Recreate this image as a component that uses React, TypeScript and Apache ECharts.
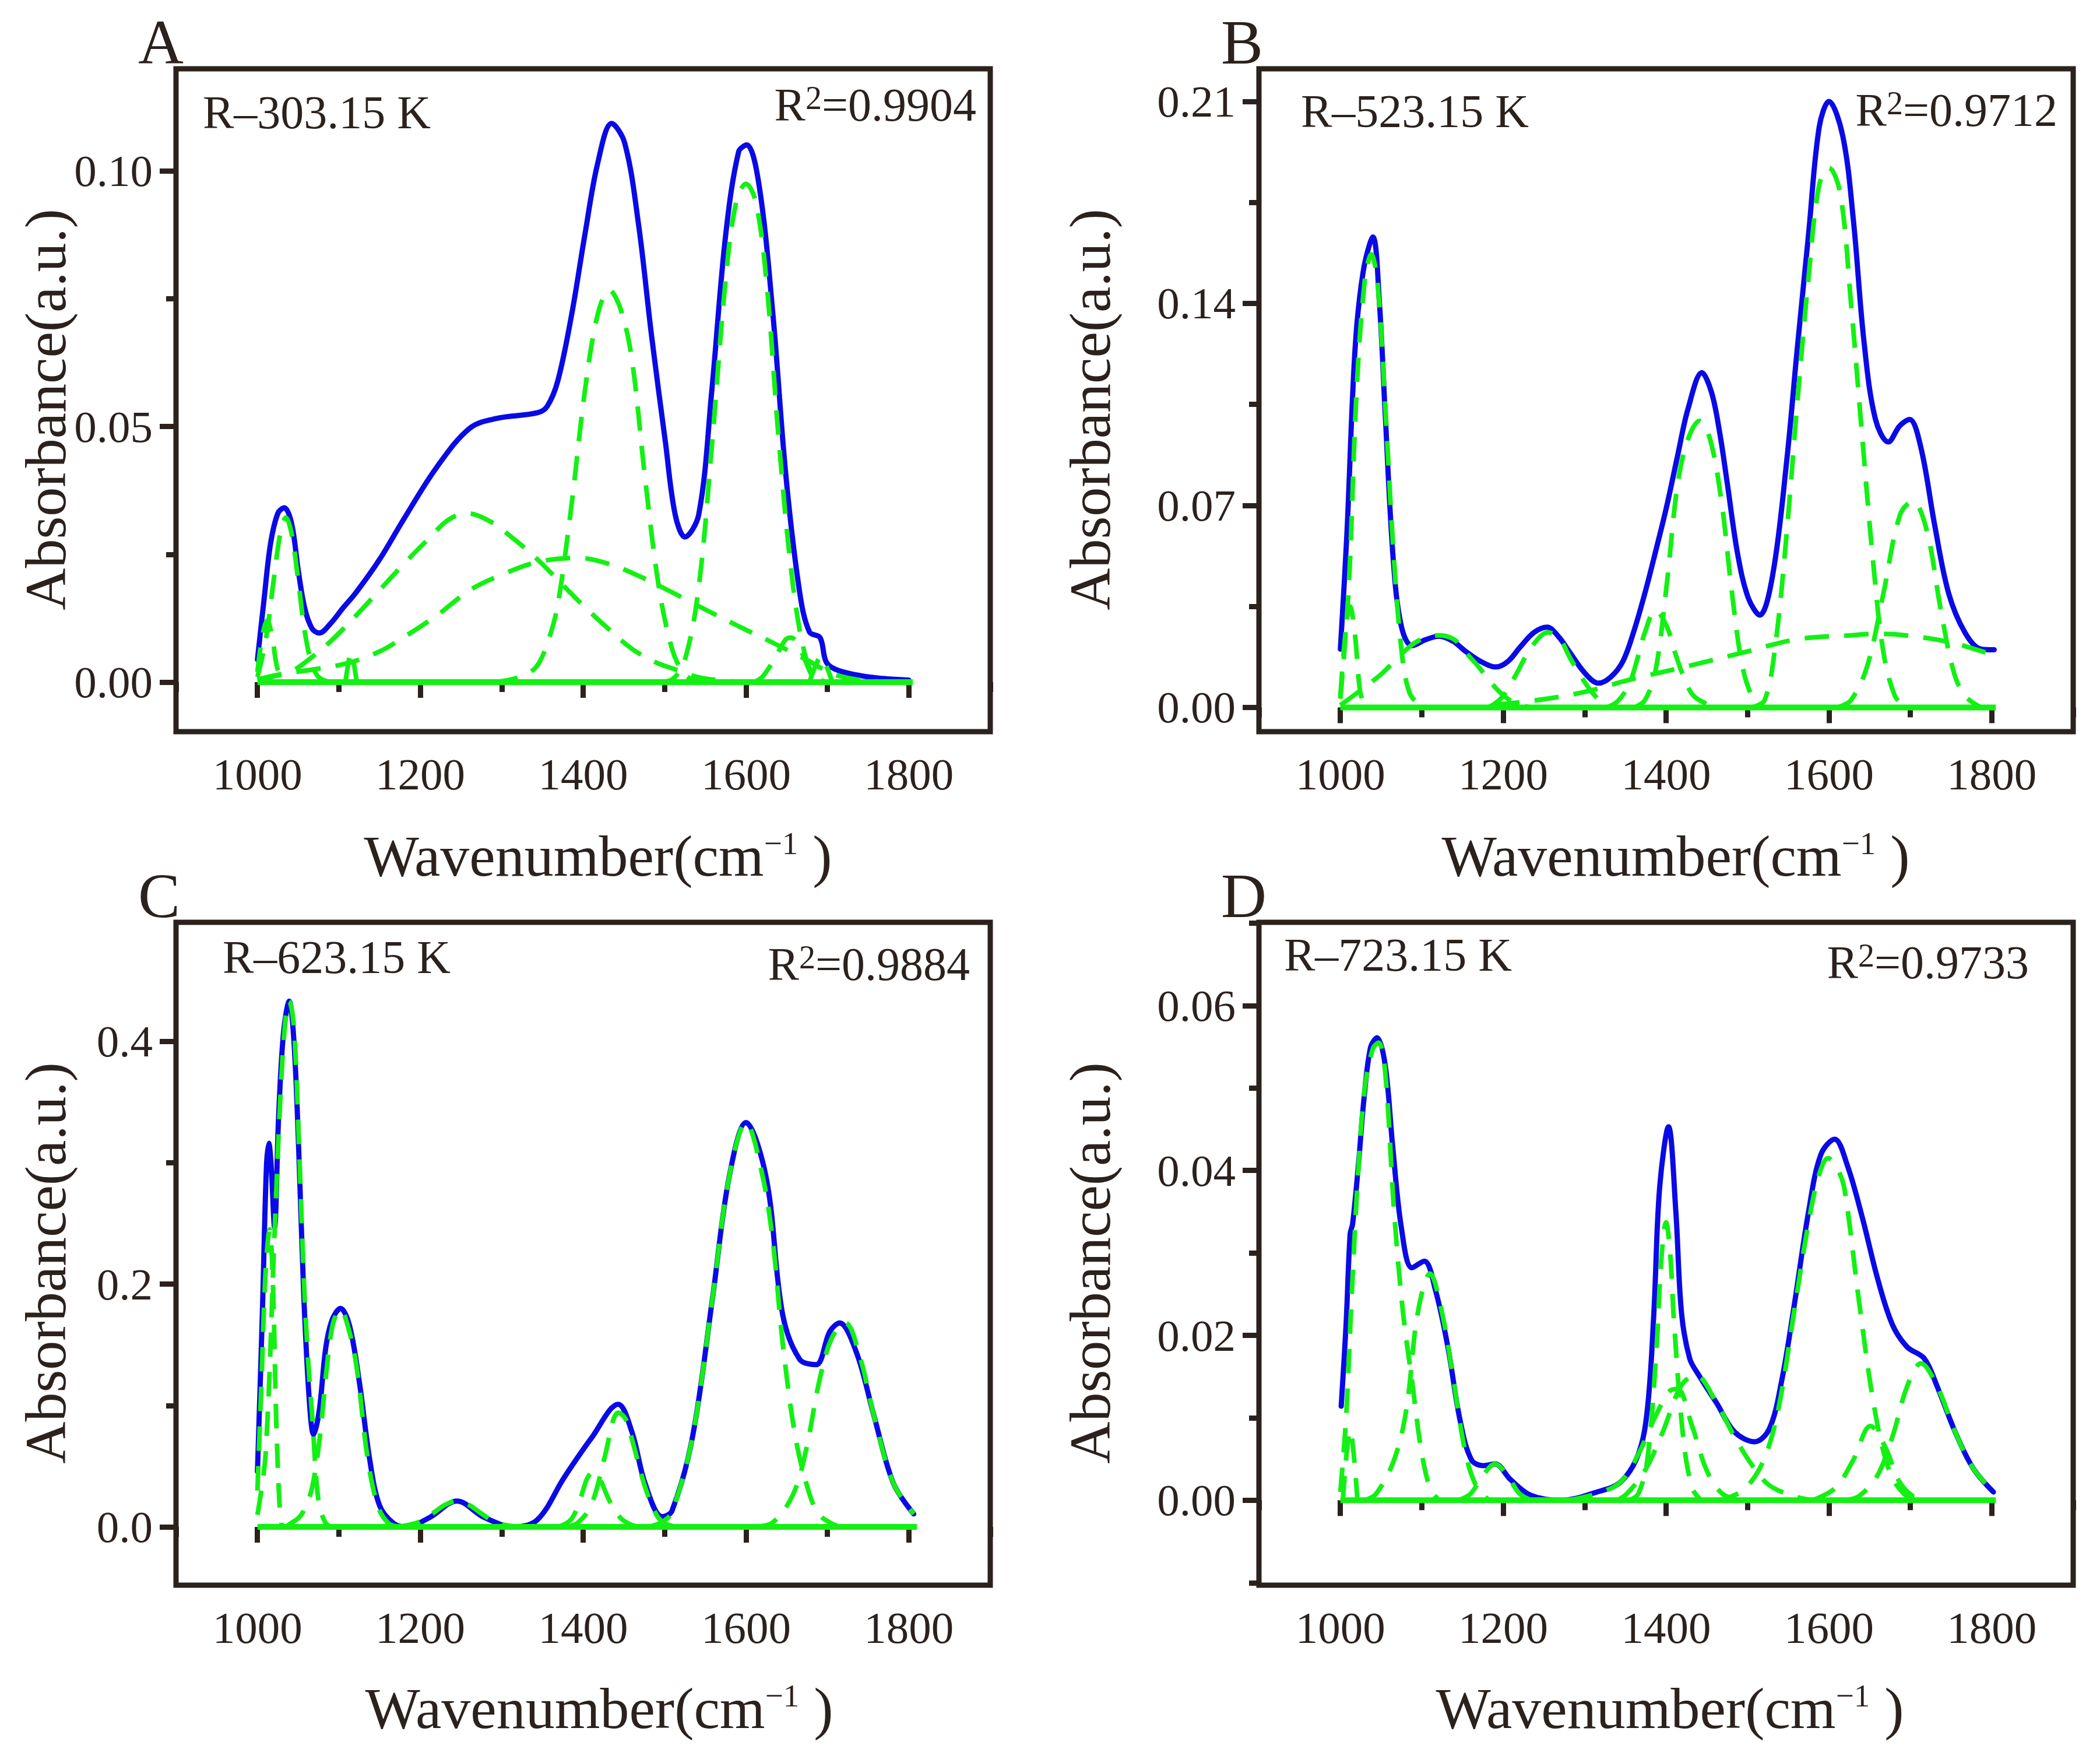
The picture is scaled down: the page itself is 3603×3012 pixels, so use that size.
import { useEffect, useRef } from "react";
import * as echarts from "echarts";

// ---- tick values (shared x, per-panel y) ----
const xMajorTicks = [1000, 1200, 1400, 1600, 1800];
const xMinorTicks = [900, 1100, 1300, 1500, 1700, 1900];

const yMajorA = [0, 0.05, 0.1];
const yMinorA = [0.025, 0.075];
const yMajorB = [0, 0.07, 0.14, 0.21];
const yMinorB = [0.035, 0.105, 0.175];
const yMajorC = [0, 0.2, 0.4];
const yMinorC = [0.1, 0.3];
const yMajorD = [0, 0.02, 0.04, 0.06];
const yMinorD = [-0.01, 0.01, 0.03, 0.05, 0.07];

const panelNames = ["A", "B", "C", "D"];
const sampleLabels = ["R–303.15 K", "R–523.15 K", "R–623.15 K", "R–723.15 K"];
const r2Values = ["0.9904", "0.9712", "0.9884", "0.9733"];

// ---- panel A, 303.15 K ----
const fitA = [
  [1000, 0.0044], [1008, 0.016], [1016, 0.027], [1025, 0.033], [1033, 0.0341], [1042, 0.031],
  [1050, 0.022], [1058, 0.0145], [1067, 0.0105], [1076, 0.0096], [1090, 0.0115], [1105, 0.0145],
  [1121, 0.0175], [1150, 0.024], [1179, 0.0317], [1220, 0.042], [1261, 0.0497], [1294, 0.0516],
  [1344, 0.0527], [1356, 0.054], [1369, 0.059], [1386, 0.072], [1402, 0.0874], [1418, 0.1016],
  [1435, 0.1093], [1451, 0.1055], [1468, 0.0896], [1484, 0.0678], [1501, 0.047], [1513, 0.0328],
  [1525, 0.0284], [1542, 0.0328], [1558, 0.057], [1575, 0.0874], [1591, 0.1038], [1601, 0.1051],
  [1616, 0.0973], [1633, 0.0721], [1649, 0.0404], [1666, 0.0175], [1678, 0.0098], [1691, 0.0087],
  [1699, 0.0038], [1715, 0.0022], [1756, 0.0009], [1800, 0.0004],
];
const peaksA = [
  [[1000, 0.002], [1006, 0.009], [1012, 0.012], [1018, 0.009], [1024, 0.003], [1032, 0]],
  [[1000, 0.001], [1010, 0.008], [1020, 0.02], [1028, 0.029], [1035, 0.0322], [1042, 0.029],
    [1050, 0.02], [1058, 0.01], [1066, 0.004], [1075, 0.001], [1090, 0]],
  [[1108, 0], [1112, 0.004], [1115, 0.006], [1118, 0.004], [1122, 0]],
  [[1000, 0.0005], [1040, 0.002], [1063, 0.0044], [1090, 0.008], [1121, 0.013], [1150, 0.018],
    [1179, 0.023], [1210, 0.028], [1235, 0.0318], [1258, 0.033], [1285, 0.0315], [1315, 0.028],
    [1344, 0.024], [1375, 0.019], [1400, 0.015], [1427, 0.011], [1460, 0.0065], [1490, 0.0038],
    [1509, 0.0027], [1540, 0.001], [1570, 0.0003], [1600, 0]],
  [[1000, 0.0005], [1030, 0.0016], [1070, 0.0025], [1113, 0.0038], [1150, 0.006], [1179, 0.0087],
    [1220, 0.013], [1261, 0.018], [1300, 0.021], [1344, 0.0235], [1394, 0.0243], [1430, 0.0232],
    [1468, 0.0208], [1510, 0.0175], [1550, 0.0142], [1590, 0.011], [1633, 0.0077], [1674, 0.0044],
    [1707, 0.0016], [1740, 0.0004], [1780, 0]],
  [[1290, 0], [1311, 0.0005], [1330, 0.0015], [1344, 0.0033], [1357, 0.008], [1369, 0.0153],
    [1386, 0.035], [1402, 0.0568], [1418, 0.072], [1432, 0.0767], [1446, 0.073], [1460, 0.063],
    [1476, 0.04], [1493, 0.0186], [1509, 0.0066], [1522, 0.002], [1534, 0.0005], [1550, 0]],
  [[1490, 0], [1509, 0.0005], [1525, 0.0044], [1542, 0.0186], [1558, 0.046], [1575, 0.0787],
    [1588, 0.094], [1600, 0.0975], [1612, 0.094], [1625, 0.0787], [1641, 0.046], [1658, 0.0186],
    [1674, 0.0044], [1687, 0.0008], [1700, 0]],
  [[1610, 0], [1620, 0.001], [1635, 0.0045], [1648, 0.0082], [1655, 0.0087], [1662, 0.008],
    [1672, 0.0045], [1682, 0.001], [1690, 0]],
  [[1678, 0], [1685, 0.003], [1692, 0.005], [1699, 0.003], [1706, 0]],
];
const baseA = [[1000, 0], [1805, 0]];

// ---- panel B, 523.15 K ----
const fitB = [
  [1000, 0.0202], [1008, 0.06], [1018, 0.124], [1028, 0.151], [1040, 0.163], [1048, 0.14],
  [1055, 0.102], [1065, 0.051], [1075, 0.028], [1088, 0.0214], [1105, 0.0235], [1121, 0.0247],
  [1138, 0.023], [1154, 0.0194], [1172, 0.016], [1191, 0.014], [1206, 0.016], [1221, 0.021],
  [1238, 0.026], [1254, 0.0278], [1268, 0.0245], [1281, 0.0194], [1300, 0.012], [1317, 0.0084],
  [1332, 0.0105], [1347, 0.016], [1360, 0.026], [1374, 0.0396], [1388, 0.055], [1401, 0.07],
  [1414, 0.087], [1427, 0.1035], [1444, 0.116], [1456, 0.109], [1466, 0.095], [1475, 0.078],
  [1488, 0.053], [1501, 0.0379], [1515, 0.032], [1531, 0.046], [1548, 0.085], [1561, 0.124],
  [1575, 0.164], [1588, 0.201], [1600, 0.21], [1617, 0.198], [1630, 0.169], [1643, 0.127],
  [1657, 0.1], [1673, 0.092], [1687, 0.0976], [1699, 0.0998], [1713, 0.09], [1730, 0.063],
  [1747, 0.0396], [1767, 0.026], [1787, 0.0202], [1803, 0.02],
];
const peaksB = [
  [[1000, 0.004], [1006, 0.025], [1012, 0.035], [1018, 0.025], [1024, 0.006], [1030, 0]],
  [[1000, 0.003], [1010, 0.04], [1020, 0.11], [1030, 0.148], [1038, 0.157], [1046, 0.146],
    [1055, 0.105], [1065, 0.055], [1075, 0.02], [1085, 0.005], [1100, 0]],
  [[1000, 0.0008], [1048, 0.011], [1075, 0.0185], [1095, 0.023], [1121, 0.025], [1140, 0.0235],
    [1154, 0.019], [1170, 0.014], [1181, 0.01], [1195, 0.0055], [1208, 0.0025], [1221, 0.0008], [1235, 0]],
  [[1180, 0], [1188, 0.001], [1200, 0.004], [1215, 0.011], [1235, 0.021], [1255, 0.026],
    [1270, 0.0235], [1281, 0.0177], [1295, 0.011], [1307, 0.006], [1318, 0.0025], [1327, 0.0008], [1340, 0]],
  [[1190, 0.001], [1228, 0.002], [1294, 0.005], [1361, 0.01], [1427, 0.0143], [1494, 0.019],
    [1561, 0.0236], [1627, 0.025], [1660, 0.0255], [1694, 0.025], [1747, 0.0227], [1793, 0.019], [1805, 0.018]],
  [[1327, 0], [1340, 0.002], [1354, 0.0076], [1365, 0.017], [1374, 0.026], [1387, 0.0337],
    [1401, 0.028], [1411, 0.019], [1421, 0.011], [1431, 0.005], [1441, 0.0025], [1461, 0]],
  [[1361, 0], [1374, 0.0025], [1387, 0.0126], [1401, 0.043], [1414, 0.077], [1427, 0.093],
    [1441, 0.0993], [1454, 0.093], [1468, 0.0715], [1481, 0.0396], [1494, 0.014], [1508, 0.0025], [1521, 0]],
  [[1505, 0], [1521, 0.0025], [1534, 0.021], [1548, 0.06], [1561, 0.105], [1575, 0.149],
    [1588, 0.181], [1600, 0.187], [1614, 0.178], [1627, 0.1405], [1641, 0.0934], [1654, 0.0513],
    [1667, 0.019], [1681, 0.004], [1694, 0]],
  [[1610, 0], [1627, 0.0025], [1647, 0.0143], [1667, 0.0396], [1687, 0.0665], [1703, 0.0715],
    [1720, 0.0615], [1737, 0.0345], [1753, 0.0126], [1767, 0.004], [1787, 0]],
];
const baseB = [[1000, 0], [1805, 0]];

// ---- panel C, 623.15 K ----
const fitC = [
  [1000, 0.0455], [1006, 0.175], [1011, 0.296], [1014, 0.316], [1017, 0.296], [1021, 0.247],
  [1026, 0.338], [1032, 0.407], [1039, 0.433], [1045, 0.398], [1051, 0.305], [1057, 0.189],
  [1064, 0.101], [1069, 0.076], [1076, 0.0965], [1084, 0.148], [1092, 0.171], [1102, 0.18],
  [1113, 0.166], [1125, 0.12], [1138, 0.055], [1150, 0.0176], [1167, 0.003], [1183, 0],
  [1212, 0.008], [1245, 0.0213], [1278, 0.008], [1315, 0], [1344, 0.006], [1377, 0.041],
  [1410, 0.073], [1443, 0.101], [1460, 0.078], [1476, 0.036], [1497, 0.0084], [1509, 0.013],
  [1534, 0.073], [1559, 0.189], [1579, 0.287], [1600, 0.333], [1625, 0.287], [1645, 0.175],
  [1666, 0.138], [1686, 0.1336], [1703, 0.161], [1715, 0.168], [1736, 0.143], [1757, 0.092],
  [1781, 0.036], [1806, 0.0107],
];
const peaksC = [
  [[1000, 0.03], [1005, 0.12], [1010, 0.21], [1015, 0.245], [1019, 0.2], [1023, 0.09], [1027, 0.02], [1030, 0]],
  [[1000, 0.01], [1010, 0.06], [1021, 0.241], [1028, 0.351], [1034, 0.415], [1039, 0.433],
    [1045, 0.41], [1051, 0.315], [1057, 0.204], [1062, 0.14], [1067, 0.094], [1075, 0.021], [1083, 0.004], [1090, 0]],
  [[1035, 0], [1041, 0.003], [1050, 0.007], [1057, 0.0136], [1067, 0.032], [1077, 0.076],
    [1085, 0.13], [1093, 0.168], [1102, 0.179], [1112, 0.163], [1122, 0.131], [1135, 0.058],
    [1148, 0.017], [1161, 0.003], [1175, 0]],
  [[1170, 0], [1185, 0.0015], [1200, 0.0045], [1215, 0.011], [1230, 0.018], [1245, 0.0213],
    [1260, 0.018], [1275, 0.011], [1290, 0.0045], [1305, 0.0015], [1320, 0]],
  [[1370, 0], [1385, 0.006], [1395, 0.02], [1405, 0.04], [1412, 0.045], [1420, 0.04],
    [1432, 0.022], [1445, 0.008], [1458, 0.002], [1470, 0]],
  [[1380, 0], [1394, 0.0037], [1410, 0.018], [1427, 0.059], [1437, 0.088], [1443, 0.094],
    [1452, 0.089], [1460, 0.072], [1476, 0.033], [1490, 0.01], [1500, 0.003], [1515, 0]],
  [[1480, 0], [1497, 0.004], [1509, 0.012], [1534, 0.073], [1559, 0.189], [1579, 0.287],
    [1600, 0.333], [1620, 0.29], [1633, 0.235], [1645, 0.152], [1661, 0.073], [1678, 0.027],
    [1690, 0.01], [1703, 0.0037], [1715, 0]],
  [[1610, 0], [1633, 0.0037], [1658, 0.027], [1674, 0.064], [1690, 0.12], [1705, 0.155],
    [1722, 0.168], [1740, 0.14], [1757, 0.092], [1781, 0.036], [1806, 0.0107]],
];
const baseC = [[1000, 0], [1810, 0]];

// ---- panel D, 723.15 K ----
const fitD = [
  [1001, 0.0114], [1007, 0.0213], [1012, 0.0323], [1015, 0.0335], [1022, 0.0405], [1029, 0.0487],
  [1037, 0.0549], [1045, 0.0561], [1055, 0.0528], [1064, 0.0432], [1075, 0.033], [1088, 0.0282],
  [1103, 0.029], [1117, 0.0254], [1132, 0.0186], [1147, 0.0097], [1161, 0.0049], [1176, 0.0042],
  [1190, 0.0044], [1209, 0.0025], [1234, 0.0006], [1271, 0], [1315, 0.001], [1344, 0.0022],
  [1366, 0.0056], [1377, 0.011], [1385, 0.0227], [1392, 0.0378], [1403, 0.0453], [1412, 0.035],
  [1419, 0.0227], [1429, 0.0172], [1440, 0.0152], [1462, 0.0118], [1484, 0.0083], [1509, 0.0071],
  [1527, 0.0087], [1542, 0.0145], [1557, 0.0234], [1575, 0.035], [1590, 0.0419], [1607, 0.0438],
  [1623, 0.0405], [1641, 0.0343], [1660, 0.0268], [1678, 0.0213], [1696, 0.0186], [1717, 0.0172],
  [1733, 0.0138], [1755, 0.0083], [1777, 0.0039], [1802, 0.001],
];
const peaksD = [
  [[1003, 0], [1008, 0.006], [1012, 0.0085], [1016, 0.006], [1021, 0]],
  [[1000, 0.001], [1007, 0.01], [1014, 0.025], [1022, 0.04], [1030, 0.05], [1040, 0.0548],
    [1047, 0.0555], [1055, 0.052], [1066, 0.035], [1077, 0.0227], [1088, 0.0145], [1099, 0.0063],
    [1110, 0.0015], [1121, 0]],
  [[1030, 0], [1044, 0.0008], [1066, 0.0049], [1081, 0.011], [1095, 0.0227], [1110, 0.0275],
    [1125, 0.0227], [1139, 0.0145], [1154, 0.0056], [1168, 0.0015], [1183, 0]],
  [[1145, 0], [1160, 0.0008], [1175, 0.003], [1190, 0.0044], [1205, 0.003], [1220, 0.0008], [1235, 0]],
  [[1355, 0], [1366, 0.0008], [1377, 0.0049], [1388, 0.018], [1394, 0.029], [1400, 0.0337],
    [1405, 0.03], [1410, 0.0213], [1421, 0.0077], [1432, 0.0015], [1443, 0]],
  [[1280, 0], [1315, 0.0008], [1344, 0.0022], [1366, 0.0056], [1388, 0.0104], [1405, 0.0133],
    [1414, 0.0135], [1432, 0.009], [1450, 0.0036], [1469, 0.0008], [1491, 0]],
  [[1340, 0], [1352, 0.0008], [1374, 0.0036], [1396, 0.0083], [1418, 0.0138], [1436, 0.0152],
    [1462, 0.0118], [1484, 0.0077], [1506, 0.0042], [1527, 0.0018], [1557, 0.0005], [1580, 0]],
  [[1460, 0], [1476, 0.0003], [1498, 0.0015], [1520, 0.0049], [1538, 0.0111], [1557, 0.0227],
    [1575, 0.0337], [1588, 0.0395], [1599, 0.0415], [1610, 0.0403], [1619, 0.0378], [1637, 0.0241],
    [1656, 0.0111], [1674, 0.0036], [1692, 0.0008], [1711, 0]],
  [[1580, 0], [1608, 0.0015], [1630, 0.0049], [1651, 0.009], [1670, 0.0063], [1685, 0.0025],
    [1703, 0.0005], [1720, 0]],
  [[1620, 0], [1637, 0.0005], [1659, 0.0029], [1678, 0.0077], [1696, 0.0138], [1713, 0.0166],
    [1733, 0.0138], [1755, 0.0083], [1777, 0.0039], [1802, 0.001]],
];
const baseD = [[1000, 0], [1805, 0]];

// ---- styling / layout ----
const FONT = '"Liberation Serif", "Times New Roman", serif';
const INK = "#2b211d";
const BLUE = "#0a0ae6";
const GREEN = "#14f014";

const W = 3603;
const H = 3012;
const FRAME_W = 1397;
const FRAME_H = 1137;
const COL_X = [302, 2160];
const ROW_Y = [118, 1582];

const panels = [
  {
    fit: fitA, peaks: peaksA, base: baseA, yMin: -0.0097, yMax: 0.12,
    yMajor: yMajorA, yMinor: yMinorA, digits: 2,
    col: 0, row: 0, labelX: 348, labelB: 220, r2X: 1675, r2B: 207, titleX: 1026, yTitleX: 78,
  },
  {
    fit: fitB, peaks: peaksB, base: baseB, yMin: -0.0084, yMax: 0.2213,
    yMajor: yMajorB, yMinor: yMinorB, digits: 2,
    col: 1, row: 0, labelX: 2232, labelB: 218, r2X: 3530, r2B: 216, titleX: 2875, yTitleX: 1870,
  },
  {
    fit: fitC, peaks: peaksC, base: baseC, yMin: -0.048, yMax: 0.498,
    yMajor: yMajorC, yMinor: yMinorC, digits: 1,
    col: 0, row: 1, labelX: 382, labelB: 1669, r2X: 1664, r2B: 1681, titleX: 1028, yTitleX: 78,
  },
  {
    fit: fitD, peaks: peaksD, base: baseD, yMin: -0.0103, yMax: 0.0701,
    yMajor: yMajorD, yMinor: yMinorD, digits: 2,
    col: 1, row: 1, labelX: 2203, labelB: 1665, r2X: 3481, r2B: 1678, titleX: 2865, yTitleX: 1870,
  },
];

const tickFont = { fontFamily: FONT, fontSize: 77, color: INK };

const buildOption = () => {
  const grid: any[] = [];
  const xAxis: any[] = [];
  const yAxis: any[] = [];
  const series: any[] = [];
  const graphic: any[] = [];

  panels.forEach((p, i) => {
    const left = COL_X[p.col];
    const top = ROW_Y[p.row];
    grid.push({
      left, top, width: FRAME_W, height: FRAME_H,
      show: true, borderColor: INK, borderWidth: 9, backgroundColor: "transparent",
      containLabel: false, outerBoundsMode: "none",
    });

    // major + minor x axes
    xAxis.push({
      type: "value", gridIndex: i, min: 900, max: 1900, position: "bottom",
      axisLine: { show: false }, splitLine: { show: false },
      axisTick: { show: true, length: 27, lineStyle: { color: INK, width: 9 }, customValues: xMajorTicks },
      axisLabel: { ...tickFont, margin: 34, customValues: xMajorTicks, formatter: (v: number) => String(v) },
    });
    xAxis.push({
      type: "value", gridIndex: i, min: 900, max: 1900, position: "bottom",
      axisLine: { show: false }, splitLine: { show: false },
      axisTick: { show: true, length: 17, lineStyle: { color: INK, width: 9 }, customValues: xMinorTicks },
      axisLabel: { show: false },
    });
    yAxis.push({
      type: "value", gridIndex: i, min: p.yMin, max: p.yMax, position: "left",
      axisLine: { show: false }, splitLine: { show: false },
      axisTick: { show: true, length: 28, lineStyle: { color: INK, width: 9 }, customValues: p.yMajor },
      axisLabel: {
        ...tickFont, margin: 40, customValues: p.yMajor,
        formatter: (v: number) => v.toFixed(p.digits),
      },
    });
    yAxis.push({
      type: "value", gridIndex: i, min: p.yMin, max: p.yMax, position: "left",
      axisLine: { show: false }, splitLine: { show: false },
      axisTick: { show: true, length: 17, lineStyle: { color: INK, width: 9 }, customValues: p.yMinor },
      axisLabel: { show: false },
    });

    const ax = i * 2;
    series.push({
      type: "line", xAxisIndex: ax, yAxisIndex: ax, data: p.fit, smooth: 0.35,
      symbol: "none", silent: true, z: 2,
      lineStyle: { color: BLUE, width: 9, cap: "round", join: "round" },
    });
    p.peaks.forEach((pk) => {
      series.push({
        type: "line", xAxisIndex: ax, yAxisIndex: ax, data: pk, smooth: 0.35,
        symbol: "none", silent: true, z: 3,
        lineStyle: { color: GREEN, width: 8, type: [42, 26] },
      });
    });
    series.push({
      type: "line", xAxisIndex: ax, yAxisIndex: ax, data: p.base,
      symbol: "none", silent: true, z: 3,
      lineStyle: { color: GREEN, width: 10 },
    });

    // panel letter
    graphic.push({
      type: "text", x: left - 65, y: top - 9 - 0.335 * 108,
      style: { text: panelNames[i], fontFamily: FONT, fontSize: 108, fill: INK, align: "left", verticalAlign: "middle" },
    });
    // sample label
    graphic.push({
      type: "text", x: p.labelX, y: p.labelB - 0.335 * 80,
      style: { text: sampleLabels[i], fontFamily: FONT, fontSize: 80, fill: INK, align: "left", verticalAlign: "middle" },
    });
    // R^2 label
    graphic.push({
      type: "text", x: p.r2X, y: p.r2B - 0.335 * 80,
      style: {
        text: `{m|R}{s|2}{m|=${r2Values[i]}}`, fill: INK, align: "right", verticalAlign: "middle",
        rich: {
          m: { fontFamily: FONT, fontSize: 80, lineHeight: 80, fill: INK, verticalAlign: "bottom" },
          s: { fontFamily: FONT, fontSize: 56, lineHeight: 24, fill: INK, verticalAlign: "top" },
        },
      },
    });
    // y title
    graphic.push({
      type: "text", x: p.yTitleX, y: top + FRAME_H / 2 + 16, rotation: Math.PI / 2,
      style: { text: "Absorbance(a.u.)", fontFamily: FONT, fontSize: 100, fill: INK, align: "center", verticalAlign: "middle" },
    });
    // x title
    const titleBase = p.row === 0 ? 1502 : 2964;
    graphic.push({
      type: "text", x: p.titleX, y: titleBase - 0.335 * 100,
      style: {
        text: "{m|Wavenumber(cm}{s|−1}{m| )}", fill: INK, align: "center", verticalAlign: "middle",
        rich: {
          m: { fontFamily: FONT, fontSize: 100, lineHeight: 100, fill: INK, verticalAlign: "bottom" },
          s: { fontFamily: FONT, fontSize: 55, lineHeight: 60, fill: INK, verticalAlign: "top" },
        },
      },
    });
  });

  return { animation: false, backgroundColor: "#ffffff", grid, xAxis, yAxis, series, graphic };
};

const SpectraFigure = () => {
  const chartRef = useRef<HTMLDivElement>(null);

  useEffect(() => {
    if (!chartRef.current) return;
    const chart = echarts.init(chartRef.current, null, { renderer: "svg" });
    chart.setOption(buildOption());
    return () => {
      chart.dispose();
    };
  }, []);

  return (
    <div
      ref={chartRef}
      style={{ position: "absolute", left: 0, top: 0, width: W, height: H, background: "#fff" }}
    />
  );
};

export default function App() {
  return <SpectraFigure />;
}
